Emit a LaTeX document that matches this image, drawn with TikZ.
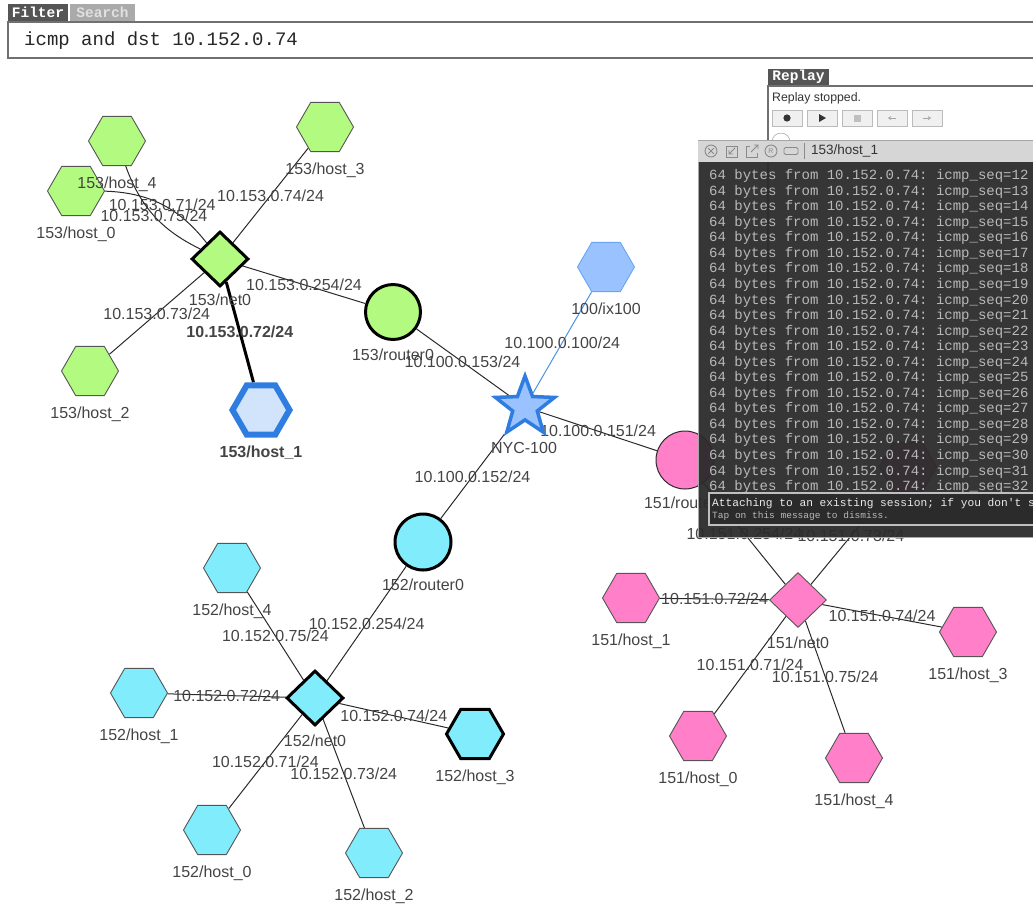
\documentclass[tikz,border=0pt]{standalone}
\usepackage{fontspec}
\setmainfont{Liberation Sans}
\setmonofont{Liberation Mono}
\usepackage{tikz}
\usetikzlibrary{shapes.geometric,positioning,backgrounds,arrows.meta,calc}

\definecolor{grn}{HTML}{B3FB80}
\definecolor{cyn}{HTML}{80ECFC}
\definecolor{pnk}{HTML}{FF80C8}
\definecolor{ixblue}{HTML}{99C2FF}
\definecolor{ixline}{HTML}{6AA5F5}
\definecolor{selblue}{HTML}{2F7DE1}
\definecolor{selfill}{HTML}{D2E3FC}
\definecolor{txtgray}{HTML}{444444}
\definecolor{hexline}{HTML}{555555}
\definecolor{edgeblack}{HTML}{2A2A2A}
\definecolor{tabdark}{HTML}{555555}
\definecolor{tablight}{HTML}{AAAAAA}
\definecolor{boxgray}{HTML}{707070}
\definecolor{btnfill}{HTML}{F0F0F0}
\definecolor{btnline}{HTML}{BBBBBB}
\definecolor{termbg}{HTML}{2B2B2B}
\definecolor{termfg}{HTML}{B9B9B9}
\definecolor{titlegray}{HTML}{D6D6D6}
\definecolor{icongray}{HTML}{8A8A8A}

\begin{document}
\begin{tikzpicture}[x=1pt, y=-1pt,
    host/.style={regular polygon, regular polygon sides=6, minimum size=57pt, inner sep=0pt, draw=hexline, line width=0.9pt},
    net/.style={diamond, minimum width=57pt, minimum height=55pt, inner sep=0pt, draw=black, line width=3pt},
    rtr/.style={circle, minimum size=55pt, inner sep=0pt, draw=black, line width=3pt},
    nlbl/.style={font=\fontsize{16}{18}\selectfont, text=txtgray, inner sep=0pt},
    elbl/.style={font=\fontsize{16}{18}\selectfont, text=txtgray, inner sep=0pt},
    edge/.style={draw=edgeblack, line width=1pt},
    tabbox/.style={minimum height=17pt, inner sep=0pt, font=\ttfamily\bfseries\fontsize{14.5}{16}\selectfont},
    btn/.style={draw=btnline, fill=btnfill, minimum width=30pt, minimum height=16pt, inner sep=0pt},
    icon/.style={draw=icongray, line width=0.9pt},
    termln/.style={font=\ttfamily\fontsize{14}{16}\selectfont, text=termfg, anchor=west, inner sep=0pt}
  ]

  \useasboundingbox (0,0) rectangle (1033,906);

  %% Filter bar
  \node[tabbox, fill=tabdark, text=white, minimum width=60pt] (ftab) at (38,12.5) {Filter};
  \node[tabbox, fill=tablight, text=white!88!black, minimum width=65pt] (stab) at (102.5,12.5) {Search};
  \draw[draw=boxgray, line width=1.3pt, fill=white] (8,22) rectangle (1045,58);
  \node[anchor=west, inner sep=0pt, font=\ttfamily\fontsize{19}{21}\selectfont, text=black!85] (fltxt) at (24,41) {icmp and dst 10.152.0.74};

  %% AS 153
  \node[net, fill=grn] (n153) at (220,259) {};
  \node[nlbl] (n153-l) at (220,300) {153/net0};
  \node[rtr, fill=grn] (r153) at (393,312) {};
  \node[nlbl] (r153-l) at (393,355) {153/router0};
  \foreach \n/\x/\y in {0/76/191, 2/90/371, 3/325/127, 4/117/141}{
    \node[host, fill=grn] (h153-\n) at (\x,\y) {};
    \node[nlbl] (h153-\n-l) at (\x,\y+43) {153/host\_\n};
  }
  \node[host, fill=selfill, draw=selblue, line width=6pt] (h153-1) at (261,410) {};
  \node[nlbl, font=\bfseries\fontsize{16}{18}\selectfont] (h153-1-l) at (261,453) {153/host\_1};

  %% Exchange
  \node[star, star points=5, star point ratio=2.4, minimum size=62pt, inner sep=0pt,
        draw=selblue, line width=3.5pt, fill=ixblue] (nyc) at (525,407) {};
  \node[nlbl] (nyc-l) at (524,448) {NYC-100};
  \node[host, fill=ixblue, draw=ixline] (ix100) at (606,267) {};
  \node[nlbl] (ix100-l) at (606,309) {100/ix100};

  %% AS 152
  \node[net, fill=cyn] (n152) at (315,698) {};
  \node[nlbl] (n152-l) at (315,741) {152/net0};
  \node[rtr, fill=cyn, minimum size=56pt] (r152) at (423,542) {};
  \node[nlbl] (r152-l) at (423,585) {152/router0};
  \foreach \n/\x/\y in {0/212/830, 1/139/693, 2/374/853, 4/232/568}{
    \node[host, fill=cyn] (h152-\n) at (\x,\y) {};
    \node[nlbl] (h152-\n-l) at (\x,\y+43) {152/host\_\n};
  }
  \node[host, fill=cyn, draw=black, line width=3pt] (h152-3) at (475,734) {};
  \node[nlbl] (h152-3-l) at (475,777) {152/host\_3};

  %% AS 151
  \node[net, fill=pnk, draw=hexline, line width=0.9pt] (n151) at (798,600) {};
  \node[nlbl] (n151-l) at (798,643) {151/net0};
  \node[rtr, fill=pnk, draw=edgeblack, line width=1pt, minimum size=58pt] (r151) at (685,460) {};
  \node[nlbl] (r151-l) at (685,503) {151/router0};
  \foreach \n/\x/\y in {0/698/736, 1/631/598, 2/908/467, 3/968/632, 4/854/758}{
    \node[host, fill=pnk] (h151-\n) at (\x,\y) {};
    \node[nlbl] (h151-\n-l) at (\x,\y+43) {151/host\_\n};
  }

  %% Links
  \begin{scope}[on background layer]
    \draw[edge] (h153-0) to[bend left=25] node[elbl]{10.153.0.71/24} (n153);
    \draw[edge] (h153-4) to[bend right=22] node[elbl]{10.153.0.75/24} (n153);
    \foreach \n in {2,3}{
      \pgfmathtruncatemacro{\ip}{71+\n}
      \draw[edge] (n153) -- node[elbl]{10.153.0.\ip/24} (h153-\n);
    }
    \draw[edge, draw=black, line width=3pt] (n153) -- node[elbl, font=\bfseries\fontsize{16}{18}\selectfont]{10.153.0.72/24} (h153-1);
    \draw[edge] (n153) -- node[elbl]{10.153.0.254/24} (r153);

    \draw[edge] (r153) -- node[elbl]{10.100.0.153/24} (nyc);
    \draw[edge, draw=selblue!85] (ix100) -- node[elbl]{10.100.0.100/24} (nyc);
    \draw[edge] (nyc) -- node[elbl]{10.100.0.151/24} (r151);
    \draw[edge] (nyc) -- node[elbl]{10.100.0.152/24} (r152);

    \foreach \n in {0,...,4}{
      \pgfmathtruncatemacro{\ip}{71+\n}
      \draw[edge] (n152) -- node[elbl]{10.152.0.\ip/24} (h152-\n);
      \draw[edge] (n151) -- node[elbl]{10.151.0.\ip/24} (h151-\n);
    }
    \draw[edge] (n152) -- node[elbl]{10.152.0.254/24} (r152);
    \draw[edge] (n151) -- node[elbl]{10.151.0.254/24} (r151);
  \end{scope}

  %% Replay panel
  \node[tabbox, fill=tabdark, text=white, minimum width=61pt] (rtab) at (798.5,77) {Replay};
  \fill[white] (768,86) rectangle (1040,140);
  \draw[draw=boxgray, line width=1.2pt] (768,408) -- (768,86) -- (1045,86);
  \node[anchor=west, inner sep=0pt, font=\fontsize{12.3}{14}\selectfont, text=black!80] (rstat) at (772,98) {Replay stopped.};
  \foreach \i in {1,...,5}{
    \node[btn] (btn\i) at (752+35*\i,118) {};
  }
  \fill[black!80] (btn1) circle (3.6);
  \fill[black!80] ($(btn2)+(-3,-4)$) -- ++(7,4) -- ++(-7,4) -- cycle;
  \fill[black!25] ($(btn3)+(-3.5,-3.5)$) rectangle ++(7,7);
  \draw[black!35, line width=0.8pt, -{Stealth[length=3pt,width=4pt]}] ($(btn4)+(4,0)$) -- ++(-8,0);
  \draw[black!35, line width=0.8pt, -{Stealth[length=3pt,width=4pt]}] ($(btn5)+(-4,0)$) -- ++(8,0);
  \draw[draw=black!45, fill=white] (781,142) circle (9);

  %% Console window
  \fill[termbg, fill opacity=0.95] (698,162) rectangle (1045,537);
  \draw[draw=black!35] (698,140) -- (698,537) -- (1045,537);
  \fill[titlegray] (698,140) rectangle (1045,162);
  \draw[draw=black!35] (698,140) -- (1045,140);
  \draw[icon] (711,151) circle (6);
  \draw[icon] (708.2,148.2) -- (713.8,153.8) (713.8,148.2) -- (708.2,153.8);
  \draw[icon] (726,146) rectangle (737,157);
  \draw[icon] (735,148) -- (729,154) (729,150) -- (729,154) -- (733,154);
  \draw[icon] (750,146) -- (746,146) -- (746,157) -- (757,157) -- (757,153);
  \draw[icon] (751,152) -- (758,145) (754,145) -- (758,145) -- (758,149);
  \draw[icon] (771,151) circle (6);
  \node[inner sep=0pt, font=\fontsize{7}{8}\selectfont, text=icongray] (icr) at (771,151.3) {R};
  \draw[icon, rounded corners=1.5pt] (784,147.5) rectangle (798,154.5);
  \draw[draw=icongray] (804,143) -- (804,159);
  \node[anchor=west, inner sep=0pt, font=\fontsize{13.5}{15}\selectfont, text=black!80] (ttl) at (811,151) {153/host\_1};

  \foreach \s [count=\i from 0] in {12,...,32}{
    \node[termln] (ln\s) at (709,176+15.55*\i) {64 bytes from 10.152.0.74: icmp\_seq=\s};
  }

  \draw[draw=black!25, line width=1.3pt, fill=termbg] (709,493) rectangle (1045,525);
  \node[anchor=west, inner sep=0pt, font=\ttfamily\fontsize{11.2}{13}\selectfont, text=white!92!black] (msg1) at (712,504) {Attaching to an existing session; if you don't s};
  \node[anchor=west, inner sep=0pt, font=\ttfamily\fontsize{9.5}{11}\selectfont, text=termfg] (msg2) at (712,516.5) {Tap on this message to dismiss.};

\end{tikzpicture}
\end{document}
